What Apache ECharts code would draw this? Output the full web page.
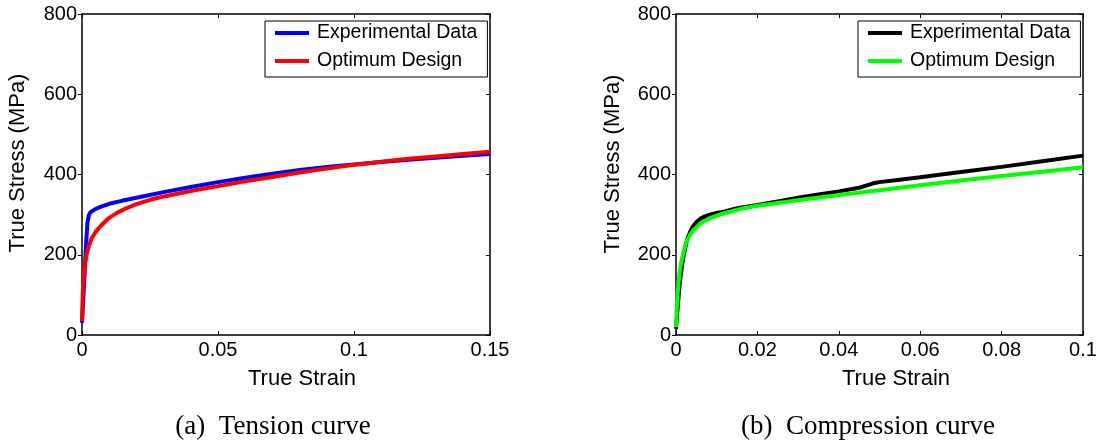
<!DOCTYPE html>
<html>
<head>
<meta charset="utf-8">
<script src="https://cdn.jsdelivr.net/npm/echarts@6/dist/echarts.min.js"></script>
<style>
html,body{margin:0;padding:0;background:#fff;}
#chart{width:1104px;height:447px;}
</style>
</head>
<body>
<div id="chart"></div>
<script>
// ---- Data ----
var legendNames = ['Experimental Data', 'Optimum Design'];
var captions = ['(a)  Tension curve', '(b)  Compression curve'];
var xTitle = 'True Strain';
var yTitle = 'True Stress (MPa)';

var xTicksTension = [0, 0.05, 0.1, 0.15];
var xTicksCompression = [0, 0.02, 0.04, 0.06, 0.08, 0.1];
var yTicks = [0, 200, 400, 600, 800];

// Tension – experimental (blue)
var tensionExpStrain = [0, 0.0005, 0.001, 0.0015, 0.002, 0.0025, 0.003, 0.004, 0.005, 0.007, 0.01, 0.015, 0.02, 0.03, 0.04, 0.05, 0.06, 0.07, 0.08, 0.09, 0.1, 0.11, 0.12, 0.13, 0.14, 0.15];
var tensionExpStress = [30, 95, 160, 225, 280, 298, 305, 310, 314, 320, 327, 335, 342, 356, 369, 381, 392, 402, 411, 419, 425, 431, 437, 442, 447, 451];
// Tension – optimum design (red)
var tensionOptStrain = [0, 0.0003, 0.0006, 0.001, 0.0017, 0.0025, 0.0035, 0.005, 0.007, 0.01, 0.013, 0.016, 0.02, 0.025, 0.03, 0.04, 0.05, 0.06, 0.07, 0.08, 0.09, 0.1, 0.11, 0.12, 0.13, 0.14, 0.15];
var tensionOptStress = [35, 110, 145, 172, 200, 222, 240, 257, 273, 292, 305, 315, 326, 337, 345, 359, 371, 383, 394, 405, 415, 424, 432, 439, 445, 451, 457];

// Compression – experimental (black)
var compExpStrain = [0, 0.0005, 0.001, 0.0015, 0.002, 0.0025, 0.003, 0.0035, 0.004, 0.005, 0.006, 0.007, 0.008, 0.01, 0.012, 0.015, 0.02, 0.025, 0.03, 0.035, 0.04, 0.045, 0.0485, 0.05, 0.055, 0.06, 0.07, 0.08, 0.09, 0.1];
var compExpStress = [15, 80, 135, 175, 205, 228, 245, 257, 268, 281, 290, 295, 299, 304, 308, 316, 324, 333, 342, 350, 358, 367, 378, 381, 387, 393, 406, 419, 433, 447];
// Compression – optimum design (green)
var compOptStrain = [0, 0.0003, 0.0006, 0.001, 0.0014, 0.002, 0.0026, 0.0035, 0.0043, 0.006, 0.0084, 0.012, 0.0166, 0.02, 0.03, 0.04, 0.05, 0.06, 0.07, 0.08, 0.09, 0.1];
var compOptStress = [20, 90, 129, 165, 187, 213, 233, 250, 262, 278, 292, 304, 316, 322, 336, 349, 361, 373, 385, 396, 407, 418];

function pairs(xs, ys) { return xs.map(function (x, i) { return [x, ys[i]]; }); }
function fmt(v) { return String(parseFloat(v.toFixed(4))); }

var FONT = 'Liberation Sans, Arial, sans-serif';
var SERIF = 'Liberation Serif, Times New Roman, serif';

var grids = [
  { left: 82, top: 14, width: 408, height: 321 },
  { left: 676, top: 14, width: 407, height: 321 }
];

var axisLineStyle = { color: '#000', width: 1.5 };

function xAxes(gi, ticks) {
  var max = ticks[ticks.length - 1];
  var interval = ticks[1] - ticks[0];
  return [
    {
      gridIndex: gi, type: 'value', position: 'bottom', min: 0, max: max, interval: interval,
      axisLine: { show: true, onZero: false, lineStyle: axisLineStyle },
      axisTick: { show: true, inside: true, length: 4, lineStyle: { color: '#000', width: 1 } },
      axisLabel: { show: true, margin: 5, color: '#000', fontSize: 20, fontFamily: FONT, formatter: fmt },
      splitLine: { show: false }
    },
    {
      gridIndex: gi, type: 'value', position: 'top', min: 0, max: max, interval: interval,
      axisLine: { show: true, onZero: false, lineStyle: axisLineStyle },
      axisTick: { show: true, inside: true, length: 4, lineStyle: { color: '#000', width: 1 } },
      axisLabel: { show: false },
      splitLine: { show: false }
    }
  ];
}
function yAxes(gi) {
  return [
    {
      gridIndex: gi, type: 'value', position: 'left', min: yTicks[0], max: yTicks[yTicks.length - 1], interval: yTicks[1] - yTicks[0],
      axisLine: { show: true, onZero: false, lineStyle: axisLineStyle },
      axisTick: { show: true, inside: false, length: 4, lineStyle: { color: '#000', width: 1 } },
      axisLabel: { show: true, margin: 5, color: '#000', fontSize: 20, fontFamily: FONT },
      splitLine: { show: false }
    },
    {
      gridIndex: gi, type: 'value', position: 'right', min: yTicks[0], max: yTicks[yTicks.length - 1], interval: yTicks[1] - yTicks[0],
      axisLine: { show: true, onZero: false, lineStyle: axisLineStyle },
      axisTick: { show: true, inside: true, length: 4, lineStyle: { color: '#000', width: 1 } },
      axisLabel: { show: false },
      splitLine: { show: false }
    }
  ];
}

function lineSeries(name, xi, yi, data, color) {
  return {
    name: name, type: 'line', xAxisIndex: xi, yAxisIndex: yi, data: data,
    showSymbol: false, symbol: 'none', smooth: false, animation: false,
    lineStyle: { color: color, width: 4 }, itemStyle: { color: color }
  };
}

function legendFor(prefix, left) {
  return {
    orient: 'vertical', left: left, top: 21,
    data: [prefix + legendNames[0], prefix + legendNames[1]],
    formatter: function (n) { return n.substring(n.indexOf(':') + 1); },
    itemWidth: 34, itemHeight: 20, itemGap: 8,
    padding: [2, 10, 6, 8],
    backgroundColor: '#fff', borderColor: '#000', borderWidth: 1, borderRadius: 0,
    selectedMode: false,
    textStyle: { color: '#000', fontSize: 19.5, fontFamily: FONT, padding: [0, 0, 0, 3] },
    itemStyle: { opacity: 0 },
    lineStyle: { width: 4, opacity: 1 }
  };
}

function txt(x, y, text, size, family, rot) {
  return {
    type: 'text', x: x, y: y, rotation: rot || 0,
    style: { text: text, fill: '#000', font: size + 'px ' + family, align: 'center', verticalAlign: 'middle' }
  };
}

var option = {
  animation: false,
  backgroundColor: '#fff',
  grid: grids,
  xAxis: xAxes(0, xTicksTension).concat(xAxes(1, xTicksCompression)),
  yAxis: yAxes(0).concat(yAxes(1)),
  legend: [legendFor('T:', 265), legendFor('C:', 858)],
  series: [
    lineSeries('T:' + legendNames[0], 0, 0, pairs(tensionExpStrain, tensionExpStress), '#0000ff'),
    lineSeries('T:' + legendNames[1], 0, 0, pairs(tensionOptStrain, tensionOptStress), '#ff0000'),
    lineSeries('C:' + legendNames[0], 2, 2, pairs(compExpStrain, compExpStress), '#000000'),
    lineSeries('C:' + legendNames[1], 2, 2, pairs(compOptStrain, compOptStress), '#00ff00')
  ],
  graphic: [
    txt(302, 379, xTitle, 22, FONT),
    txt(896, 379, xTitle, 22, FONT),
    txt(17.5, 163, yTitle, 22, FONT, Math.PI / 2),
    txt(612.5, 164, yTitle, 22, FONT, Math.PI / 2),
    txt(273, 427, captions[0], 27, SERIF),
    txt(868, 427, captions[1], 27, SERIF)
  ]
};

var chart = echarts.init(document.getElementById('chart'), null, { renderer: 'canvas' });
chart.setOption(option);
</script>
</body>
</html>
